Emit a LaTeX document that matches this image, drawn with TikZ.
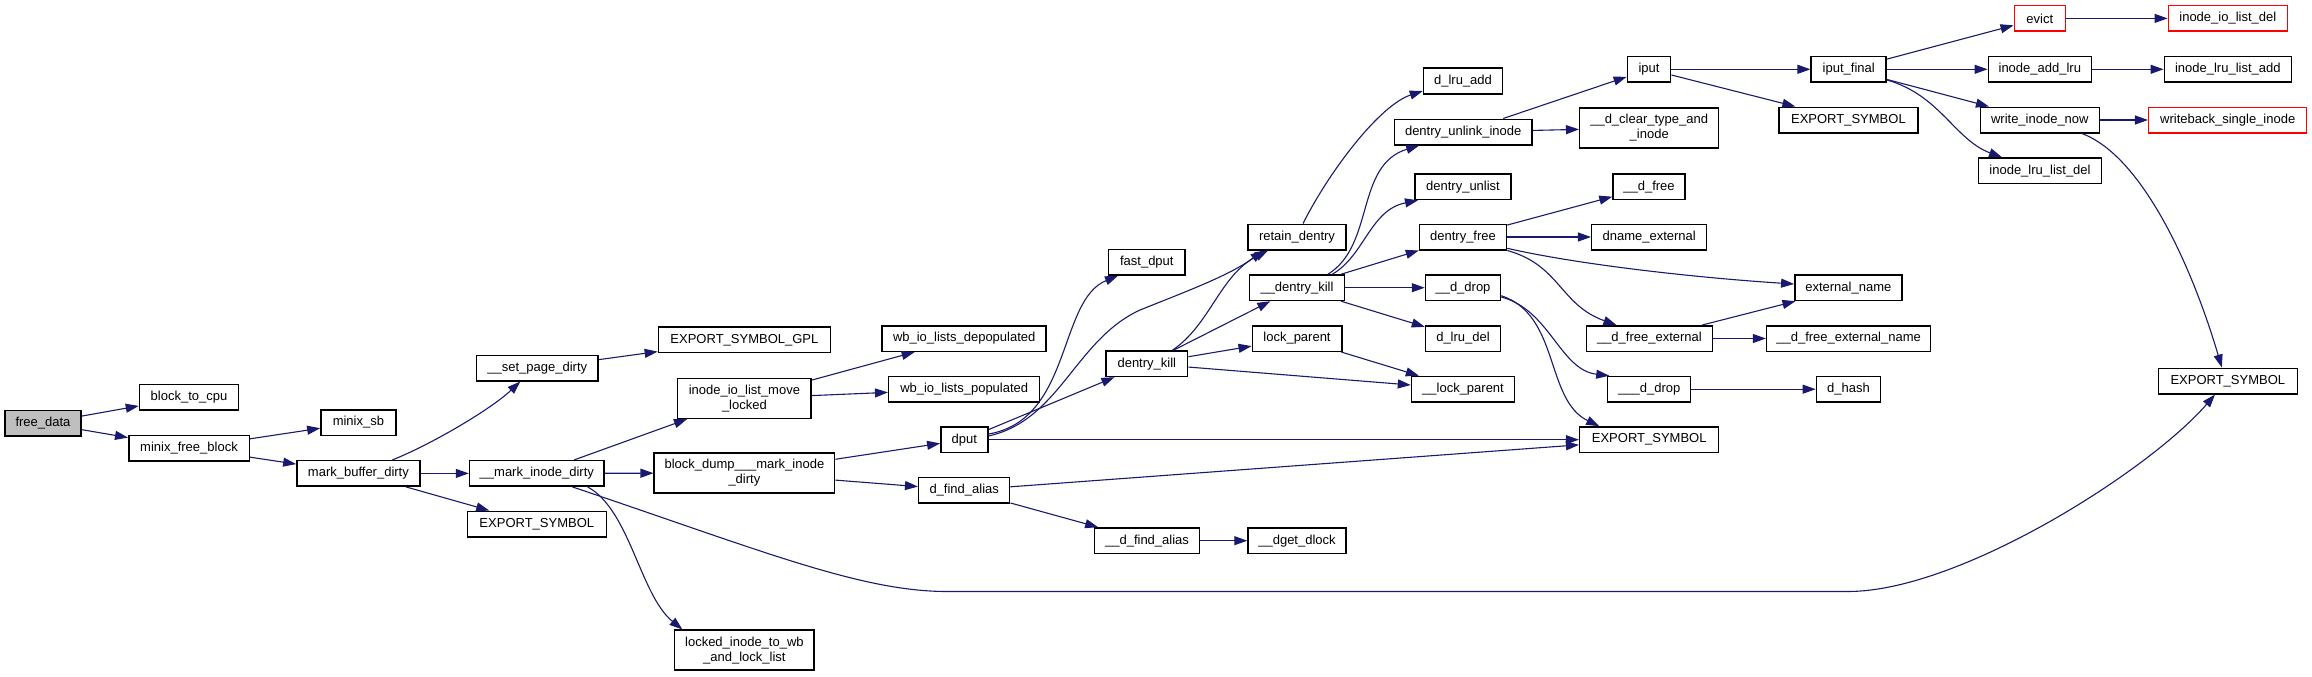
\documentclass[tikz,border=0pt]{standalone}
\usepackage{fontspec}
\setmainfont{Liberation Sans}
\usetikzlibrary{arrows.meta}
\definecolor{edgeblue}{HTML}{191970}
\definecolor{rootgray}{HTML}{BFBFBF}
\tikzset{
  box/.style={draw=black, fill=white, line width=1.5pt, inner sep=0pt, minimum height=25.5pt, font=\fontsize{13}{15}\selectfont, align=center},
  box2/.style={box, minimum height=40pt},
  rootbox/.style={box, fill=rootgray},
  redbox/.style={box, draw=red},
  conn/.style={draw=edgeblue, line width=1.1pt, -{Triangle[length=13pt,width=9pt]}},
}
\begin{document}
\begin{tikzpicture}[x=1pt,y=-1pt]
\useasboundingbox (0,0) rectangle (2312,677);
% nodes
\node[rootbox, minimum width=76pt] (fd) at (43,423) {free\_data};
\node[box, minimum width=99pt] (btc) at (189,397) {block\_to\_cpu};
\node[box, minimum width=120.5pt] (mfb) at (189,448) {minix\_free\_block};
\node[box, minimum width=75pt] (msb) at (358.4,422.5) {minix\_sb};
\node[box, minimum width=123pt] (mbd) at (358.4,473.4) {mark\_buffer\_dirty};
\node[box, minimum width=121.5pt] (spd) at (537.3,368) {\_\_set\_page\_dirty};
\node[box, minimum width=134.5pt] (mid) at (536.8,473.4) {\_\_mark\_inode\_dirty};
\node[box, minimum width=139pt] (es1) at (536.8,524) {EXPORT\_SYMBOL};
\node[box, minimum width=172pt] (esg) at (744.4,339.8) {EXPORT\_SYMBOL\_GPL};
\node[box2, minimum width=133.6pt] (iolm) at (744.4,398.4) {inode\_io\_list\_move\\\_locked};
\node[box2, minimum width=180.4pt] (bdm) at (744.4,473) {block\_dump\_\_\_mark\_inode\\\_dirty};
\node[box2, minimum width=139.6pt] (litw) at (744.4,650.2) {locked\_inode\_to\_wb\\\_and\_lock\_list};
\node[box, minimum width=164pt] (wbd) at (964.2,338.5) {wb\_io\_lists\_depopulated};
\node[box, minimum width=151pt] (wbp) at (964.2,389.2) {wb\_io\_lists\_populated};
\node[box, minimum width=47pt] (dput) at (964.3,439.7) {dput};
\node[box, minimum width=91pt] (dfa) at (964.2,490.2) {d\_find\_alias};
\node[box, minimum width=76.3pt] (fdput) at (1146.8,262.3) {fast\_dput};
\node[box, minimum width=81.6pt] (dk) at (1146.8,363.7) {dentry\_kill};
\node[box, minimum width=105.3pt] (udfa) at (1147,540.7) {\_\_d\_find\_alias};
\node[box, minimum width=98pt] (ret) at (1297,237) {retain\_dentry};
\node[box, minimum width=95pt] (udk) at (1297,287.7) {\_\_dentry\_kill};
\node[box, minimum width=89.5pt] (lp) at (1297,338.5) {lock\_parent};
\node[box, minimum width=98pt] (dgd) at (1297,540.7) {\_\_dget\_dlock};
\node[box, minimum width=79pt] (dla) at (1463,81) {d\_lru\_add};
\node[box, minimum width=137.5pt] (dui) at (1463.2,132) {dentry\_unlink\_inode};
\node[box, minimum width=95.8pt] (dul) at (1463,186.8) {dentry\_unlist};
\node[box, minimum width=87pt] (dfr) at (1463,237) {dentry\_free};
\node[box, minimum width=75pt] (ddr) at (1463,287.7) {\_\_d\_drop};
\node[box, minimum width=75pt] (dld) at (1463,338.5) {d\_lru\_del};
\node[box, minimum width=103pt] (ulp) at (1463,389.2) {\_\_lock\_parent};
\node[box, minimum width=139pt] (es2) at (1649.2,439.7) {EXPORT\_SYMBOL};
\node[box, minimum width=43.3pt] (iput) at (1649,69.3) {iput};
\node[box2, minimum width=139pt] (dct) at (1649.2,127.8) {\_\_d\_clear\_type\_and\\\_inode};
\node[box, minimum width=72pt] (udfr) at (1649,186.8) {\_\_d\_free};
\node[box, minimum width=115pt] (dne) at (1649.2,237) {dname\_external};
\node[box, minimum width=126pt] (udfe) at (1649.4,338.5) {\_\_d\_free\_external};
\node[box, minimum width=83pt] (uddr) at (1649.2,389.2) {\_\_\_d\_drop};
\node[box, minimum width=75pt] (ipf) at (1848.7,69.3) {iput\_final};
\node[box, minimum width=139pt] (es3) at (1848.4,120) {EXPORT\_SYMBOL};
\node[box, minimum width=107pt] (extn) at (1848.3,287.7) {external\_name};
\node[box, minimum width=164pt] (dfen) at (1848.6,338.5) {\_\_d\_free\_external\_name};
\node[box, minimum width=64pt] (dh) at (1848.4,389.2) {d\_hash};
\node[redbox, minimum width=51pt] (ev) at (2039.8,18.4) {evict};
\node[box, minimum width=103pt] (ial) at (2039.8,69.3) {inode\_add\_lru};
\node[box, minimum width=119pt] (win) at (2039.8,120) {write\_inode\_now};
\node[box, minimum width=122.6pt] (ild) at (2040,170.8) {inode\_lru\_list\_del};
\node[redbox, minimum width=119pt] (iiod) at (2227.8,18.4) {inode\_io\_list\_del};
\node[box, minimum width=127pt] (ila) at (2227.8,69.3) {inode\_lru\_list\_add};
\node[redbox, minimum width=158pt] (wsi) at (2227.7,120) {writeback\_single\_inode};
\node[box, minimum width=139pt] (es4) at (2227.8,381) {EXPORT\_SYMBOL};
% edges
\draw[conn] (fd) -- (btc);
\draw[conn] (fd) -- (mfb);
\draw[conn] (mfb) -- (msb);
\draw[conn] (mfb) -- (mbd);
\draw[conn] ([xshift=34pt]mbd.north) .. controls (430,445) and (490,410) .. ([xshift=-17pt]spd.south);
\draw[conn] (mbd) -- (mid);
\draw[conn] (mbd) -- (es1);
\draw[conn] (spd) -- (esg);
\draw[conn] (mid) -- (iolm);
\draw[conn] (mid) -- (bdm);
\draw[conn] ([xshift=50.8pt]mid.south) .. controls (630,510) and (640,595) .. ([xshift=-62pt]litw.north);
\draw[conn] ([xshift=35.6pt]mid.south) .. controls (760,550) and (860,591.5) .. (947,591.5) -- (1848,591.5) .. controls (1960,591.5) and (2150,470) .. ([xshift=-12.8pt]es4.south);
\draw[conn] (iolm) -- (wbd);
\draw[conn] (iolm) -- (wbp);
\draw[conn] (bdm) -- (dput);
\draw[conn] (bdm) -- (dfa);
\draw[conn] ([yshift=5.7pt]dput.east) .. controls (1072,420) and (1058,300) .. ([xshift=-28.8pt]fdput.south);
\draw[conn] ([yshift=3.7pt]dput.east) .. controls (1060,420) and (1075,340) .. (1140,310) .. controls (1190,290) and (1230,275) .. ([xshift=-33.5pt]ret.south);
\draw[conn] (dput) -- (dk);
\draw[conn] (dput) -- (es2);
\draw[conn] (dfa) -- (es2);
\draw[conn] (dfa) -- (udfa);
\draw[conn] (udfa) -- (dgd);
\draw[conn] ([xshift=25.6pt]dk.north) .. controls (1210,325) and (1220,275) .. ([xshift=-29pt]ret.south);
\draw[conn] (dk) -- (udk);
\draw[conn] (dk) -- (lp);
\draw[conn] (dk) -- (ulp);
\draw[conn] ([xshift=6pt]ret.north) .. controls (1330,170) and (1380,105) .. ([yshift=-10pt]dla.west);
\draw[conn] ([xshift=31pt]udk.north) .. controls (1375,245) and (1355,165) .. ([xshift=-44pt]dui.south);
\draw[conn] ([xshift=35.4pt]udk.north) .. controls (1365,255) and (1370,210) .. ([xshift=-45pt]dul.south);
\draw[conn] (udk) -- (dfr);
\draw[conn] (udk) -- (ddr);
\draw[conn] (udk) -- (dld);
\draw[conn] (lp) -- (ulp);
\draw[conn] (dui) -- (iput);
\draw[conn] (dui) -- (dct);
\draw[conn] (dfr) -- (udfr);
\draw[conn] (dfr) -- (dne);
\draw[conn] ([yshift=-11.3pt]dfr.east) .. controls (1580,265) and (1700,278) .. ([yshift=3.7pt]extn.west);
\draw[conn] (dfr.south east) .. controls (1560,265) and (1560,305) .. ([xshift=-33pt]udfe.north);
\draw[conn] ([yshift=-9.3pt]ddr.east) .. controls (1550,310) and (1560,370) .. ([xshift=-40pt]uddr.north);
\draw[conn] ([yshift=-8pt]ddr.east) .. controls (1560,315) and (1545,400) .. ([xshift=-50pt]es2.north);
\draw[conn] (udfe) -- (extn);
\draw[conn] (udfe) -- (dfen);
\draw[conn] (uddr) -- (dh);
\draw[conn] (iput) -- (ipf);
\draw[conn] (iput) -- (es3);
\draw[conn] (ipf) -- (ev);
\draw[conn] (ipf) -- (ial);
\draw[conn] (ipf) -- (win);
\draw[conn] ([yshift=-10.7pt]ipf.east) .. controls (1940,95) and (1955,140) .. ([xshift=-38pt]ild.north);
\draw[conn] (ev) -- (iiod);
\draw[conn] (ial) -- (ila);
\draw[conn] (win) -- (wsi);
\draw[conn] ([xshift=42pt]win.south) .. controls (2140,155) and (2190,260) .. ([xshift=-6pt]es4.north);
\end{tikzpicture}
\end{document}
